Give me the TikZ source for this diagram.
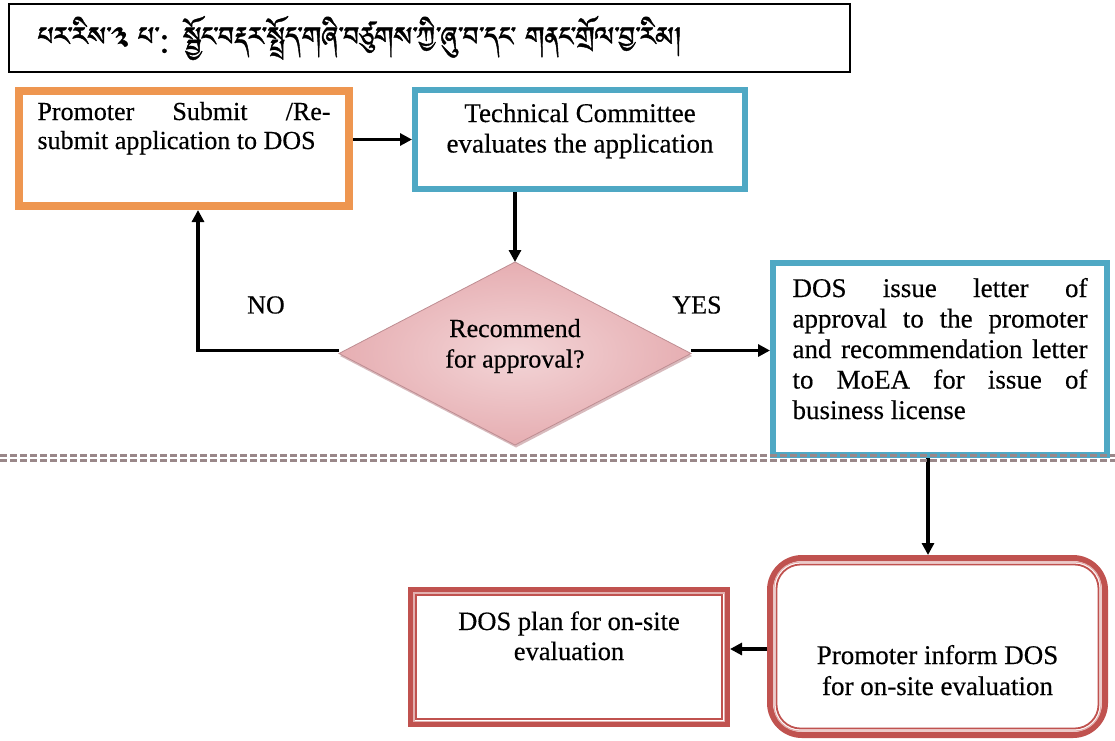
\documentclass[tikz,border=0pt]{standalone}
\usepackage{fontspec}
\usepackage{graphicx}
\setmainfont{Liberation Serif}[FakeBold=0.4]
\usetikzlibrary{arrows.meta,shapes.geometric,shadows}
\IfFontExistsTF{Jomolhari}{\newfontfamily\tibfont[Script=Tibetan,FakeBold=1.2]{Jomolhari}}{%
\IfFontExistsTF{Tibetan Machine Uni}{\newfontfamily\tibfont[Script=Tibetan,FakeBold=1.2]{Tibetan Machine Uni}}{%
\IfFontExistsTF{Noto Serif Tibetan}{\newfontfamily\tibfont[Script=Tibetan]{Noto Serif Tibetan}}{%
\IfFontExistsTF{Noto Sans Tibetan}{\newfontfamily\tibfont[Script=Tibetan]{Noto Sans Tibetan}}{%
\newfontfamily\tibfont{Noto Sans}}}}}
\definecolor{orng}{HTML}{EE9650}
\definecolor{boxteal}{HTML}{4FA8C4}
\definecolor{boxred}{HTML}{C0524F}
\definecolor{diain}{HTML}{F3D5D7}
\definecolor{diaout}{HTML}{E6AEB2}
\definecolor{diaedge}{HTML}{BE8D92}
\definecolor{sepc}{HTML}{9A8789}
\begin{document}
\begin{tikzpicture}[x=1pt,y=-1pt,
  base/.style={font=\fontsize{26}{30.5}\selectfont, inner sep=0pt, outer sep=0pt, text=black},
  obox/.style={base, draw=orng, line width=8pt, outer sep=4pt, fill=white},
  tbox/.style={base, draw=boxteal, line width=6pt, outer sep=3pt, fill=white},
  rbox/.style={base, draw=boxred, line width=5pt, outer sep=2.5pt, fill=white},
  rrbox/.style={base, draw=boxred, line width=6pt, outer sep=3pt, fill=white, rounded corners=32pt},
  arr/.style={line width=3.2pt, -{Triangle[length=12pt,width=12pt]}},
  lbl/.style={base},
  sepline/.style={draw=sepc, line width=2.2pt, dash pattern=on 7pt off 3pt}]
\fill[white] (0,0) rectangle (1115,740);
\useasboundingbox (0,0) rectangle (1115,740);

% title
\node[base, draw=black, line width=1.6pt, minimum width=841pt, minimum height=68pt] (title) at (429.5,38)
  {\parbox{783pt}{\resizebox{644pt}{!}{\tibfont པར་རིས་༣ པ་: སྦྱོང་བརྡར་སྤྲོད་གཞི་བཙུགས་ཀྱི་ཞུ་བ་དང་ གནང་གྲོལ་བྱ་རིམ།}}};

% boxes
\node[obox, font=\fontsize{26}{29}\selectfont, minimum width=330pt, minimum height=115pt, text height=0pt, text depth=57pt] (b1) at (184,148.5)
  {\parbox[t]{293pt}{Promoter Submit /Re-\linebreak submit application to DOS}};
\node[tbox, font=\fontsize{27}{30.5}\selectfont, minimum width=330pt, minimum height=99pt, text height=0pt, text depth=35pt] (b2) at (580,139.5)
  {\parbox[t]{320pt}{\centering Technical Committee\\evaluates the application}};
\node[diamond, aspect=2, base, draw=diaedge, line width=0.8pt, inner color=diain, outer color=diaout,
  drop shadow={shadow xshift=1pt, shadow yshift=-2.5pt, fill=diaedge, opacity=0.6},
  minimum width=352pt, minimum height=183pt, text height=0pt, text depth=33pt] (dm) at (515,353.5)
  {\parbox[t]{170pt}{\centering Recommend\\for approval?}};
\node[tbox, font=\fontsize{27}{30.5}\selectfont, minimum width=334pt, minimum height=192pt, text height=0pt, text depth=124pt] (b3) at (940,359)
  {\parbox[t]{295pt}{DOS issue letter of\linebreak approval to the promoter\linebreak and recommendation letter\linebreak to MoEA for issue of\linebreak business license}};
\node[rrbox, font=\fontsize{27}{31}\selectfont, minimum width=335pt, minimum height=177pt, text height=35pt, text depth=0pt] (b5) at (937.5,646.5)
  {\parbox[t]{320pt}{\centering Promoter inform DOS\\for on-site evaluation}};
\node[rbox, font=\fontsize{26.5}{30}\selectfont, minimum width=317pt, minimum height=135pt, text height=0pt, text depth=54pt] (b4) at (569,657)
  {\parbox[t]{300pt}{\centering DOS plan for on-site\\evaluation}};

% inner lines of double borders
\draw[boxred!45, line width=1.2pt] ([xshift=5.9pt,yshift=-5.9pt]b4.north west) rectangle ([xshift=-5.9pt,yshift=5.9pt]b4.south east);
\draw[boxred, line width=1.8pt] ([xshift=8.2pt,yshift=-8.2pt]b4.north west) rectangle ([xshift=-8.2pt,yshift=8.2pt]b4.south east);
\draw[boxred!45, line width=1.2pt, rounded corners=26pt] ([xshift=7pt,yshift=-7pt]b5.north west) rectangle ([xshift=-7pt,yshift=7pt]b5.south east);
\draw[boxred, line width=1.8pt, rounded corners=24pt] ([xshift=9.5pt,yshift=-9.5pt]b5.north west) rectangle ([xshift=-9.5pt,yshift=9.5pt]b5.south east);

% labels
\node[lbl] (no) at (266,305) {NO};
\node[lbl] (yes) at (697,305) {YES};

% connectors
\draw[arr] (b1.east |- b2.west) -- (b2.west);
\draw[arr] (dm.north |- b2.south) -- (dm.north);
\draw[arr] ([yshift=3pt]dm.west) -| ([xshift=14pt]b1.south);
\draw[arr] ([yshift=3pt]dm.east) -- ([yshift=3pt]dm.east -| b3.west);
\draw[arr] ([xshift=-12pt]b3.south) -- ([xshift=-12pt]b3.south |- b5.north);
\draw[arr] ([yshift=-2.5pt]b5.west) -- ([yshift=-2.5pt]b5.west -| b4.east);

% separator
\coordinate (sl) at (0,455.5); \coordinate (sr) at (1115,455.5);
\draw[sepline] (sl) -- (sr);
\draw[sepline] ([yshift=-5pt]sl) -- ([yshift=-5pt]sr);
\end{tikzpicture}
\end{document}
